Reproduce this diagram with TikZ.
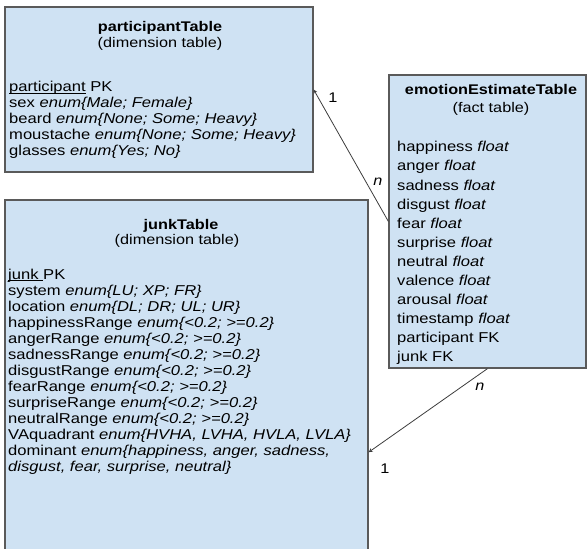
\documentclass[tikz,border=0pt]{standalone}
\usepackage{fontspec}
\setmainfont[FakeStretch=1.16]{Liberation Sans}
\usetikzlibrary{calc}
\definecolor{tablefill}{HTML}{CFE2F3}
\definecolor{tableline}{HTML}{5A5A5A}
\definecolor{linkline}{HTML}{3C3C3C}
\newcommand{\pkey}[1]{\setbox0\hbox{#1}\rlap{\rule[-2.2pt]{\wd0}{0.8pt}}\box0\relax}
\tikzset{
  tablebox/.style={draw=tableline, fill=tablefill, line width=1.2pt, inner sep=0pt},
  tabletitle/.style={anchor=base, inner sep=0pt, font=\bfseries\fontsize{14}{16}\selectfont},
  tablesub/.style={anchor=base, inner sep=0pt, font=\fontsize{14}{16}\selectfont},
  field/.style={anchor=base west, inner sep=0pt, font=\fontsize{14.3}{16}\selectfont},
  card/.style={inner sep=0pt, font=\itshape\fontsize{14}{16}\selectfont},
  link/.style={draw=linkline, line width=0.8pt, ->, >=stealth}
}
\begin{document}
\begin{tikzpicture}[x=1pt, y=-1pt]
    \clip (0,0) rectangle (588,548);
    % tables
    \node [tablebox, minimum width=308pt, minimum height=165pt] (participant) at (159,89.5) {};
    \node [tablebox, minimum width=363pt, minimum height=360pt] (junk) at (186.5,380) {};
    \node [tablebox, minimum width=197pt, minimum height=293pt] (emotion) at (487.5,221.5) {};
    % titles
    \node [tabletitle] (participantname) at (160,32) {participantTable};
    \node [tablesub] (participantkind) at (160,48) {(dimension table)};
    \node [tabletitle] (junkname) at (181,229) {junkTable};
    \node [tablesub] (junkkind) at (177,244) {(dimension table)};
    \node [tabletitle] (emotionname) at (491,95) {emotionEstimateTable};
    \node [tablesub] (emotionkind) at (491,113) {(fact table)};
    % fields
    \foreach \t [count=\i] in {{\pkey{participant} PK},
        {sex \textit{enum\{Male; Female\}}},
        {beard \textit{enum\{None; Some; Heavy\}}},
        {moustache \textit{enum\{None; Some; Heavy\}}},
        {glasses \textit{enum\{Yes; No\}}}}
      \node [field] (pf\i) at (9,{92+16*(\i-1)}) {\t};
    \foreach \t [count=\i] in {{\pkey{junk\ }PK},
        {system \textit{enum\{LU; XP; FR\}}},
        {location \textit{enum\{DL; DR; UL; UR\}}},
        {happinessRange \textit{enum\{<0.2; >=0.2\}}},
        {angerRange \textit{enum\{<0.2; >=0.2\}}},
        {sadnessRange \textit{enum\{<0.2; >=0.2\}}},
        {disgustRange \textit{enum\{<0.2; >=0.2\}}},
        {fearRange \textit{enum\{<0.2; >=0.2\}}},
        {surpriseRange \textit{enum\{<0.2; >=0.2\}}},
        {neutralRange \textit{enum\{<0.2; >=0.2\}}},
        {VAquadrant \textit{enum\{HVHA, LVHA, HVLA, LVLA\}}},
        {dominant \textit{enum\{happiness, anger, sadness,}},
        {\textit{disgust, fear, surprise, neutral\}}}}
      \node [field] (jf\i) at (8,{279+16*(\i-1)}) {\t};
    \foreach \t [count=\i] in {{happiness \textit{float}},
        {anger \textit{float}},
        {sadness \textit{float}},
        {disgust \textit{float}},
        {fear \textit{float}},
        {surprise \textit{float}},
        {neutral \textit{float}},
        {valence \textit{float}},
        {arousal \textit{float}},
        {timestamp \textit{float}},
        {participant FK},
        {junk FK}}
      \node [field] (ef\i) at (397,{152+19*(\i-1)}) {\t};
    % relations
    \draw [link] (emotion.west) -- (participant.east);
    \draw [link] (emotion.south) -- ($(junk.north east)!0.7!(junk.south east)$);
    \node [card] (oneparticipant) at (333,98) {\upshape 1};
    \node [card] (manyparticipant) at (378,182) {n};
    \node [card] (manyjunk) at (480,387) {n};
    \node [card] (onejunk) at (385,469) {\upshape 1};
\end{tikzpicture}
\end{document}
